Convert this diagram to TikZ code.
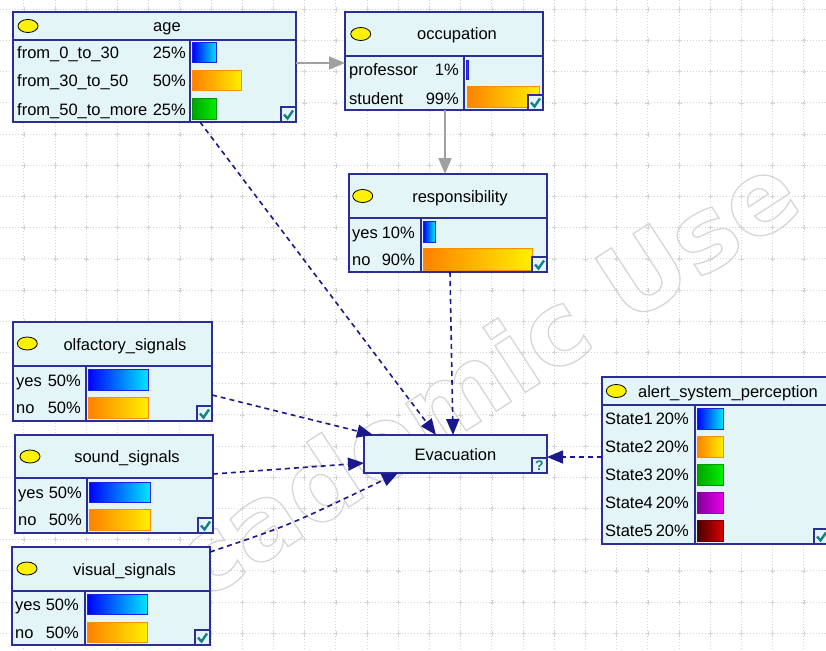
\documentclass[tikz,border=0pt]{standalone}
\usepackage{fontspec}
\setmainfont{Liberation Sans}
\newfontfamily\wmfont{DejaVu Sans}
\usetikzlibrary{arrows.meta}
\definecolor{nodefill}{RGB}{228,245,247}
\definecolor{nodeline}{RGB}{45,45,150}
\definecolor{arrnavy}{RGB}{25,25,140}
\definecolor{arrgray}{RGB}{160,160,160}
\definecolor{gridc}{RGB}{212,212,212}
\definecolor{checkc}{RGB}{20,130,130}
\definecolor{wmc}{RGB}{215,215,215}
\begin{document}
\begin{tikzpicture}[x=1pt,y=-1pt,font=\fontsize{16.5}{19}\selectfont,
  boxn/.style={draw=nodeline,line width=1.8pt,fill=nodefill,anchor=north west,inner sep=0,outer sep=0,rectangle},
  divl/.style={draw=nodeline,line width=1.6pt},
  bulb/.style={fill=yellow,draw=black,line width=0.8pt},
  lbl/.style={anchor=base west,inner sep=0},
  pct/.style={anchor=base east,inner sep=0},
  ttl/.style={anchor=base,inner sep=0},
  bblue/.style={left color={rgb,255:red,0;green,0;blue,255},right color={rgb,255:red,0;green,230;blue,255},draw={rgb,255:red,30;green,30;blue,230},line width=1pt},
  borange/.style={left color={rgb,255:red,255;green,128;blue,0},right color={rgb,255:red,255;green,240;blue,0},draw={rgb,255:red,255;green,140;blue,0},line width=1pt},
  bgreen/.style={left color={rgb,255:red,0;green,165;blue,0},right color={rgb,255:red,0;green,240;blue,0},draw={rgb,255:red,0;green,150;blue,0},line width=1pt},
  bpurple/.style={left color={rgb,255:red,125;green,0;blue,150},right color={rgb,255:red,235;green,0;blue,235},draw={rgb,255:red,150;green,0;blue,170},line width=1pt},
  bred/.style={left color={rgb,255:red,70;green,0;blue,0},right color={rgb,255:red,220;green,0;blue,0},draw={rgb,255:red,110;green,0;blue,0},line width=1pt},
  chkbox/.style={draw=nodeline,fill=nodefill,line width=1.6pt},
  chkmark/.style={draw=checkc,line width=2.4pt},
  gridline/.style={draw=gridc,line width=0.9pt,dash pattern=on 1pt off 2pt},
  grayarr/.style={draw=arrgray,line width=2pt,-{Triangle[length=16pt,width=13pt]}},
  navyarr/.style={draw=arrnavy,line width=1.6pt,dash pattern=on 5pt off 4pt,-{Triangle[length=16pt,width=13pt]}}]
\useasboundingbox (0,0) rectangle (826,650);
\clip (0,0) rectangle (826,650);
\fill[white] (0,0) rectangle (826,650);
% grid
\foreach \i in {0,...,25} {\draw[gridline] ({23.9+31.2*\i},0) -- ({23.9+31.2*\i},650);}
\foreach \j in {0,...,20} {\draw[gridline] (0,{9.3+31.2*\j}) -- (826,{9.3+31.2*\j});}
\foreach \i in {0,...,25} {\foreach \j in {0,...,20} {
  \draw[gridc,line width=0.7pt] ({23.9+31.2*\i-2.5},{9.3+31.2*\j}) -- ({23.9+31.2*\i+2.5},{9.3+31.2*\j})
     ({23.9+31.2*\i},{9.3+31.2*\j-2.5}) -- ({23.9+31.2*\i},{9.3+31.2*\j+2.5});}}
% watermark (outlined text)
\begin{scope}
\node[rotate=33,inner sep=0,text=wmc] (wm) at (450,396) {\wmfont\bfseries\fontsize{102}{102}\selectfont\special{pdf:literal direct 1 Tr 1.3 w 0.84 0.84 0.84 RG}Academic Use\special{pdf:literal direct 0 Tr}};
\end{scope}

% ---------- age ----------
\node[boxn,minimum width=283pt,minimum height=110pt] (age) at (13,12) {};
\draw[divl] (13,40) -- (296,40) (190,40) -- (190,122);
\filldraw[bulb] (28,26) ellipse [x radius=10,y radius=6.5];
\node[ttl] (age-t) at (167,32) {age};
\node[lbl] (age-s1) at (17,59) {from\_0\_to\_30};
\node[lbl] (age-s2) at (17,87) {from\_30\_to\_50};
\node[lbl] (age-s3) at (17,115) {from\_50\_to\_more};
\node[pct] (age-p1) at (186,59) {25\%};
\node[pct] (age-p2) at (186,87) {50\%};
\node[pct] (age-p3) at (186,115) {25\%};
\path[bblue] (192.5,43) rectangle (216.5,63);
\path[borange] (192.5,71) rectangle (241.5,91);
\path[bgreen] (192.5,99) rectangle (216.5,119);
\draw[chkbox] (281,107) rectangle (296,122);
\draw[chkmark] (284,114.5) -- (287.5,118.5) -- (293,110.5);

% ---------- occupation ----------
\node[boxn,minimum width=198pt,minimum height=98pt] (occ) at (345,12) {};
\draw[divl] (345,56) -- (543,56) (464,56) -- (464,110);
\filldraw[bulb] (360.7,34) ellipse [x radius=10,y radius=6.5];
\node[ttl] (occ-t) at (457,40) {occupation};
\node[lbl] (occ-s1) at (349,76) {professor};
\node[lbl] (occ-s2) at (349,104) {student};
\node[pct] (occ-p1) at (459,76) {1\%};
\node[pct] (occ-p2) at (459,104) {99\%};
\path[bblue] (466.5,61) rectangle (468,80);
\path[borange] (467,87) rectangle (539,108);
\draw[chkbox] (528,95) rectangle (543,110);
\draw[chkmark] (531,102.5) -- (534.5,106.5) -- (540,98.5);

% ---------- responsibility ----------
\node[boxn,minimum width=198pt,minimum height=98pt] (resp) at (349,174) {};
\draw[divl] (349,218) -- (547,218) (421,218) -- (421,272);
\filldraw[bulb] (362.7,196) ellipse [x radius=10,y radius=6.5];
\node[ttl] (resp-t) at (460,202) {responsibility};
\node[lbl] (resp-s1) at (352,238) {yes};
\node[lbl] (resp-s2) at (352,265.5) {no};
\node[pct] (resp-p1) at (415,238) {10\%};
\node[pct] (resp-p2) at (415,265.5) {90\%};
\path[bblue] (423,221) rectangle (435,242);
\path[borange] (423,248) rectangle (532,270);
\draw[chkbox] (532,257) rectangle (547,272);
\draw[chkmark] (535,264.5) -- (538.5,268.5) -- (544,260.5);

% ---------- olfactory_signals ----------
\node[boxn,minimum width=199pt,minimum height=99pt] (olf) at (13,322) {};
\draw[divl] (13,366) -- (212,366) (86,366) -- (86,421);
\filldraw[bulb] (27.3,343.5) ellipse [x radius=10,y radius=6.5];
\node[ttl] (olf-t) at (125,350) {olfactory\_signals};
\node[lbl] (olf-s1) at (16,386) {yes};
\node[lbl] (olf-s2) at (16,413.5) {no};
\node[pct] (olf-p1) at (81,386) {50\%};
\node[pct] (olf-p2) at (81,413.5) {50\%};
\path[bblue] (88,369) rectangle (148,390);
\path[borange] (88,397) rectangle (148,418);
\draw[chkbox] (197,406) rectangle (212,421);
\draw[chkmark] (200,413.5) -- (203.5,417.5) -- (209,409.5);

% ---------- sound_signals ----------
\node[boxn,minimum width=198pt,minimum height=98pt] (snd) at (15,435) {};
\draw[divl] (15,478) -- (213,478) (87,478) -- (87,533);
\filldraw[bulb] (30,456.5) ellipse [x radius=10,y radius=6.5];
\node[ttl] (snd-t) at (127,462.5) {sound\_signals};
\node[lbl] (snd-s1) at (18,498) {yes};
\node[lbl] (snd-s2) at (18,525.5) {no};
\node[pct] (snd-p1) at (82,498) {50\%};
\node[pct] (snd-p2) at (82,525.5) {50\%};
\path[bblue] (89,482) rectangle (150,502);
\path[borange] (89,509) rectangle (150,530);
\draw[chkbox] (198,518) rectangle (213,533);
\draw[chkmark] (201,525.5) -- (204.5,529.5) -- (210,521.5);

% ---------- visual_signals ----------
\node[boxn,minimum width=198pt,minimum height=98pt] (vis) at (12,547) {};
\draw[divl] (12,591) -- (210,591) (85,591) -- (85,645);
\filldraw[bulb] (27,568.5) ellipse [x radius=10,y radius=6.5];
\node[ttl] (vis-t) at (124.5,575) {visual\_signals};
\node[lbl] (vis-s1) at (15,610) {yes};
\node[lbl] (vis-s2) at (15,638) {no};
\node[pct] (vis-p1) at (79,610) {50\%};
\node[pct] (vis-p2) at (79,638) {50\%};
\path[bblue] (87,594) rectangle (147,614);
\path[borange] (87,622) rectangle (147,642);
\draw[chkbox] (195,630) rectangle (210,645);
\draw[chkmark] (198,637.5) -- (201.5,641.5) -- (207,633.5);

% ---------- Evacuation ----------
\node[boxn,minimum width=183pt,minimum height=38pt] (evac) at (364,435) {};
\node[ttl] (evac-t) at (455.5,460) {Evacuation};
\draw[chkbox] (532,458) rectangle (547,473);
\node[text=checkc,font=\bfseries\fontsize{14}{14}\selectfont,inner sep=0] (evac-q) at (539.5,466) {?};

% ---------- alert_system_perception ----------
\node[boxn,minimum width=227pt,minimum height=167pt] (alert) at (602,377) {};
\draw[divl] (602,405) -- (829,405) (695,405) -- (695,544);
\filldraw[bulb] (616.3,391) ellipse [x radius=10,y radius=6.5];
\node[ttl] (alert-t) at (728,397) {alert\_system\_perception};
\node[lbl] (al-s1) at (605,424.5) {State1};
\node[lbl] (al-s2) at (605,452.5) {State2};
\node[lbl] (al-s3) at (605,480.5) {State3};
\node[lbl] (al-s4) at (605,508.5) {State4};
\node[lbl] (al-s5) at (605,536.5) {State5};
\node[pct] (al-p1) at (689,424.5) {20\%};
\node[pct] (al-p2) at (689,452.5) {20\%};
\node[pct] (al-p3) at (689,480.5) {20\%};
\node[pct] (al-p4) at (689,508.5) {20\%};
\node[pct] (al-p5) at (689,536.5) {20\%};
\path[bblue] (697,408) rectangle (723,429);
\path[borange] (697,436) rectangle (723,457);
\path[bgreen] (697,464) rectangle (723,485);
\path[bpurple] (697,492) rectangle (723,513);
\path[bred] (697,520) rectangle (723,541);
\draw[chkbox] (814,529) rectangle (829,544);
\draw[chkmark] (817,536.5) -- (820.5,540.5) -- (826,532.5);

% ---------- connectors ----------
\draw[grayarr] (age.east |- 0,63) -- (occ.west |- 0,63);
\draw[grayarr] (445,0 |- occ.south) -- (445,0 |- resp.north);
\draw[navyarr] (200,0 |- age.south) -- (436,0 |- evac.north);
\draw[navyarr] (450,0 |- resp.south) -- (453,0 |- evac.north);
\draw[navyarr] (olf.east |- 0,395) -- (373,0 |- evac.north);
\draw[navyarr] (snd.east |- 0,474) -- (evac.west |- 0,463);
\draw[navyarr] (vis.east |- 0,552) .. controls (290,525) .. (398,0 |- evac.south);
\draw[navyarr] (alert.west |- 0,457) -- (evac.east |- 0,457);
\end{tikzpicture}
\end{document}
